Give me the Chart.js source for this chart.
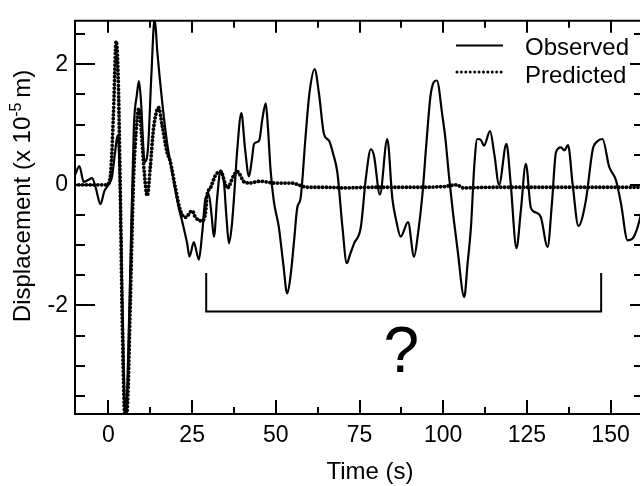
<!DOCTYPE html>
<html>
<head>
<meta charset="utf-8">
<script src="https://cdn.jsdelivr.net/npm/chart.js@4/dist/chart.umd.min.js"></script>
<style>
  html, body { margin: 0; padding: 0; background: #fff; overflow: hidden; }
  #wrap { position: relative; width: 644px; height: 486px; }
</style>
</head>
<body>
<div id="wrap"><canvas id="c"></canvas></div>
<script>
// ---- data ----
const obsT = [-10, -8.7, -7.4, -6.1, -4.9, -3.8, -2.4, -1.2, 0, 1.0,
  2.0, 2.7, 3.3, 4.2, 5.1, 5.9, 6.6, 7.6, 8.5, 9.1,
  9.7, 10.8, 11.8, 12.8, 13.8, 14.6, 16, 17.5, 19, 21,
  22, 23.5, 24.2, 25.5, 27, 28, 29, 30, 30.8, 31.5,
  32.5, 33.5, 34.5, 35.2, 36, 36.8, 37.5, 38.5, 39.7, 40.8,
  42, 42.8, 43.5, 45, 46, 47, 47.7, 48.4, 49.4, 50.9,
  52.2, 53.4, 54.4, 55.5, 56.4, 57.4, 58.9, 60, 61.6, 62.9,
  64.4, 65.9, 67.2, 68.4, 69.9, 71.2, 72.2, 73.4, 75.4, 76.9,
  78.4, 79.3, 81.1, 83.3, 84.8, 86, 87.3, 89.5, 91.3, 92.5,
  93.8, 95, 96.3, 98.1, 99.8, 100.6, 101.8, 103, 104.3, 106.3,
  107.3, 108.3, 109.3, 110.2, 111.2, 112.2, 114, 115.3, 116.7, 118.9,
  120.2, 121.9, 123.2, 124.7, 126.2, 127.7, 129.2, 131.2, 132.5, 133.7,
  135.2, 136.2, 137.3, 138.7, 140.4, 142.6, 144.7, 146, 147.6, 149.6,
  151.6, 153.1, 155.1, 156.6, 158.1, 159.5, 160.5];
const obsV = [0.16, 0.31, 0.05, 0.08, 0.11, -0.05, -0.32, -0.1, 0.0, 0.12,
  0.55, 0.82, 0.3, -2.0, -3.9, -2.8, -1.2, 0.97, 1.5, 1.72,
  1.4, 0.38, 0.6, 1.8, 2.76, 2.2, 1.4, 0.7, 0.22, -0.38,
  -0.6, -0.97, -1.19, -0.95, -1.24, -0.8, -0.22, -0.16, -0.5, -0.86,
  -0.2, 0.24, 0.05, -0.5, -0.97, -0.7, -0.22, 0.6, 1.19, 0.6,
  0.14, 0.4, 0.68, 0.73, 1.1, 1.35, 0.9, 0.27, -0.27, -0.7,
  -1.3, -1.8, -1.51, -0.9, -0.38, -0.22, 0.81, 1.5, 1.92, 1.51,
  0.84, 0.73, 0.5, 0.2, -0.7, -1.3, -1.15, -0.97, -0.7, 0.11,
  0.59, 0.49, -0.16, 0.76, -0.22, -0.6, -0.86, -0.62, -1.19, -0.8,
  -0.16, 0.7, 1.51, 1.73, 1.13, 0.8, 0.11, -0.5, -1.08, -1.86,
  -1.3, -0.7, 0.32, 0.76, 0.75, 0.65, 0.89, 0.5, 0.0, 0.68,
  0.0, -1.05, -0.43, 0.35, -0.38, -0.46, -0.54, -1.03, -0.3, 0.54,
  0.62, 0.57, 0.66, 0.0, -0.68, -0.27, 0.59, 0.72, 0.76, 0.3,
  0.08, -0.3, -0.92, -0.89, -0.7, -0.4, -0.2];

const predT = [-10, -1, 0, 0.8, 1.5, 2.3, 2.9, 3.5, 4.2, 5.0,
  5.8, 6.5, 7.5, 8.5, 9.1, 9.8, 10.7, 11.6, 12.5, 13.5,
  15, 16, 17.5, 18.5, 20, 21.5, 23, 25, 26, 28,
  29, 29.5, 30.5, 32, 33.5, 35.5, 37.5, 38.5, 40.5, 42,
  45.5, 49.5, 54.5, 59.5, 65, 70, 80, 90, 100, 104,
  106, 115, 130, 145, 160.5];
const predV = [0, 0, 0.02, 0.3, 1.2, 2.38, 1.8, 0, -2.5, -3.95,
  -3.5, -2.0, 0.1, 1.05, 1.27, 0.9, 0.2, -0.18, 0.3, 0.95,
  1.28, 1.0, 0.54, 0.38, -0.05, -0.43, -0.54, -0.43, -0.54, -0.6,
  -0.45, -0.16, -0.05, 0.16, 0.22, -0.05, 0.16, 0.22, 0.05, 0.03,
  0.06, 0.03, 0.03, -0.04, -0.04, -0.05, -0.04, -0.04, -0.03, 0.0,
  -0.05, -0.04, -0.04, -0.04, -0.04];

// bracket marking the unexplained part of the record
const bracketT = [29.2, 29.2, 147.2, 147.2];
const bracketV = [-1.46, -2.1, -2.1, -1.46];

const xTickValues = [0, 25, 50, 75, 100, 125, 150];
const xMinorTicks = [12.5, 37.5, 62.5, 87.5, 112.5, 137.5];
const yTickValues = [-2, 0, 2];
const yMinorTicks = [-3.5, -3, -2.5, -1.5, -1, -0.5, 0.5, 1, 1.5, 2.5];

const seriesNames = ['Observed', 'Predicted'];
const xTitle = 'Time (s)';
const yTitleParts = ['Displacement (x 10', '-5', ' m)'];
const questionMark = '?';
const questionPos = [87.5, -2.7];

const FONT = "'Liberation Sans', Arial, Helvetica, sans-serif";
const pts = (xs, ys) => xs.map((x, i) => ({ x: x, y: ys[i] }));
const DOT = [0.01, 3.8];

const decor = {
  id: 'decor',
  afterDraw(chart) {
    const ctx = chart.ctx;
    const a = chart.chartArea;
    const xs = chart.scales.x, ys = chart.scales.y;
    ctx.save();
    ctx.strokeStyle = '#000';
    ctx.lineWidth = 2;
    ctx.lineCap = 'butt';
    // frame
    ctx.beginPath();
    ctx.moveTo(a.left, a.top); ctx.lineTo(a.right, a.top);
    ctx.moveTo(a.left, a.bottom); ctx.lineTo(a.right, a.bottom);
    ctx.moveTo(a.left, a.top - 1); ctx.lineTo(a.left, a.bottom + 1);
    ctx.moveTo(a.right, a.top - 1); ctx.lineTo(a.right, a.bottom + 1);
    ctx.stroke();
    // ticks (inward)
    ctx.beginPath();
    const xt = (vals, lb, lt) => vals.forEach(v => {
      const p = Math.round(xs.getPixelForValue(v));
      ctx.moveTo(p, a.bottom); ctx.lineTo(p, a.bottom - lb);
      ctx.moveTo(p, a.top); ctx.lineTo(p, a.top + lt);
    });
    xt(xTickValues, 14, 12);
    xt(xMinorTicks, 7, 7);
    const yt = (vals, ll, lr) => vals.forEach(v => {
      const p = Math.round(ys.getPixelForValue(v));
      ctx.moveTo(a.left, p); ctx.lineTo(a.left + ll, p);
      ctx.moveTo(a.right, p); ctx.lineTo(a.right - lr, p);
    });
    yt(yTickValues, 20, 14);
    yt(yMinorTicks, 10, 10);
    ctx.stroke();

    // legend
    ctx.lineWidth = 2;
    ctx.beginPath();
    ctx.moveTo(456, 45.5); ctx.lineTo(503, 45.5);
    ctx.stroke();
    ctx.save();
    ctx.lineWidth = 3;
    ctx.lineCap = 'round';
    ctx.setLineDash([0.01, 4.4]);
    ctx.beginPath();
    ctx.moveTo(457, 72); ctx.lineTo(503, 72);
    ctx.stroke();
    ctx.restore();
    ctx.fillStyle = '#000';
    ctx.font = '24px ' + FONT;
    ctx.textAlign = 'left';
    ctx.textBaseline = 'alphabetic';
    ctx.fillText(seriesNames[0], 525, 55);
    ctx.fillText(seriesNames[1], 525, 83);

    // x title
    ctx.textAlign = 'center';
    ctx.fillText(xTitle, 370, 479);

    // y title with superscript
    ctx.save();
    ctx.translate(30, 195);
    ctx.rotate(-Math.PI / 2);
    ctx.font = '24px ' + FONT;
    const w1 = ctx.measureText(yTitleParts[0]).width;
    const w3 = ctx.measureText(yTitleParts[2]).width;
    ctx.font = '16px ' + FONT;
    const w2 = ctx.measureText(yTitleParts[1]).width;
    const total = w1 + w2 + w3;
    let x0 = -total / 2;
    ctx.textAlign = 'left';
    ctx.font = '24px ' + FONT;
    ctx.fillText(yTitleParts[0], x0, 0);
    ctx.font = '16px ' + FONT;
    ctx.fillText(yTitleParts[1], x0 + w1, -9);
    ctx.font = '24px ' + FONT;
    ctx.fillText(yTitleParts[2], x0 + w1 + w2 - 2, 0);
    ctx.restore();

    // question mark
    ctx.font = '64px ' + FONT;
    ctx.textAlign = 'center';
    ctx.textBaseline = 'alphabetic';
    ctx.fillText(questionMark, xs.getPixelForValue(questionPos[0]), ys.getPixelForValue(questionPos[1]) + 24);
    ctx.restore();
  }
};

new Chart(document.getElementById('c'), {
  type: 'line',
  data: {
    datasets: [
      {
        label: seriesNames[0],
        data: pts(obsT, obsV),
        borderColor: '#000',
        borderWidth: 2.2,
        pointRadius: 0,
        cubicInterpolationMode: 'monotone',
        fill: false,
        order: 1
      },
      {
        label: seriesNames[1],
        data: pts(predT, predV),
        borderColor: '#000',
        borderWidth: 3.8,
        borderDash: DOT,
        borderCapStyle: 'round',
        pointRadius: 0,
        cubicInterpolationMode: 'monotone',
        fill: false,
        order: 2
      },
      {
        label: 'bracket',
        data: pts(bracketT, bracketV),
        borderColor: '#000',
        borderWidth: 2,
        pointRadius: 0,
        tension: 0,
        fill: false,
        order: 0
      }
    ]
  },
  options: {
    responsive: true,
    maintainAspectRatio: false,
    animation: false,
    events: [],
    layout: { padding: { top: 12, right: 0, left: 0, bottom: 0 } },
    plugins: { legend: { display: false }, tooltip: { enabled: false }, title: { display: false } },
    scales: {
      x: {
        type: 'linear',
        min: -10, max: 160,
        afterFit: s => { s.height = 72; },
        afterBuildTicks: s => { s.ticks = xTickValues.map(v => ({ value: v })); },
        grid: { display: false, drawTicks: false },
        border: { display: false },
        ticks: { color: '#000', font: { family: FONT, size: 23 }, padding: 8, maxRotation: 0, autoSkip: false }
      },
      y: {
        type: 'linear',
        min: -3.8, max: 2.72,
        afterFit: s => { s.width = 75; },
        afterBuildTicks: s => { s.ticks = yTickValues.map(v => ({ value: v })); },
        grid: { display: false, drawTicks: false },
        border: { display: false },
        ticks: { color: '#000', font: { family: FONT, size: 23 }, padding: 7 }
      }
    }
  },
  plugins: [decor]
});
</script>
</body>
</html>
